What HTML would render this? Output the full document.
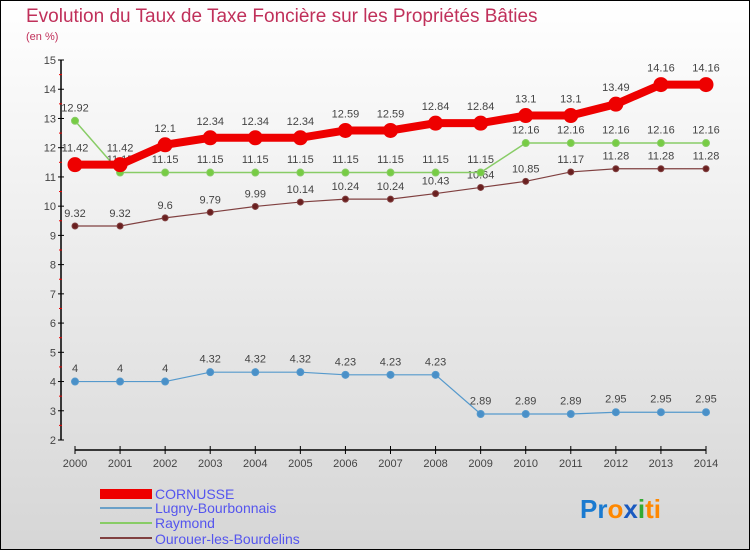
<!DOCTYPE html>
<html><head><meta charset="utf-8"><style>
body{margin:0}
#c{width:750px;height:550px;position:relative;overflow:hidden;background:linear-gradient(#fff,#d6d6d6);border:1px solid #000;box-sizing:border-box;font-family:"Liberation Sans",sans-serif}
</style></head><body>
<div id="c">
<svg id="s" width="750" height="550" style="position:absolute;left:-1px;top:-1px">
<text x="26" y="22" font-size="19" fill="#c0305a">Evolution du Taux de Taxe Foncière sur les Propriétés Bâties</text>
<text x="26" y="40" font-size="11" fill="#c0305a">(en %)</text>
<g id="ax"></g><g id="ser"></g>
<g font-size="14" fill="#5555ee">
<rect x="100" y="489" width="52" height="10" fill="#e00"/><text x="155" y="499">CORNUSSE</text>
<rect x="100" y="507" width="52" height="2" fill="#6aa0c8"/><text x="155" y="513">Lugny-Bourbonnais</text>
<rect x="100" y="522" width="52" height="2" fill="#88cc66"/><text x="155" y="528">Raymond</text>
<rect x="100" y="537" width="52" height="2" fill="#804040"/><text x="155" y="544">Ourouer-les-Bourdelins</text>
</g>
<text x="580" y="518" font-size="26" font-weight="bold"><tspan fill="#1a7ad0">Pr</tspan><tspan fill="#ff8800">o</tspan><tspan fill="#1a5ac0">x</tspan><tspan fill="#33aa33">i</tspan><tspan fill="#ff8800">ti</tspan></text>
</svg></div>
<script>
const years=[2000,2001,2002,2003,2004,2005,2006,2007,2008,2009,2010,2011,2012,2013,2014];
const cornusse=[11.42,11.42,12.1,12.34,12.34,12.34,12.59,12.59,12.84,12.84,13.1,13.1,13.49,14.16,14.16];
const lugny=[4,4,4,4.32,4.32,4.32,4.23,4.23,4.23,2.89,2.89,2.89,2.95,2.95,2.95];
const raymond=[12.92,11.15,11.15,11.15,11.15,11.15,11.15,11.15,11.15,11.15,12.16,12.16,12.16,12.16,12.16];
const ourouer=[9.32,9.32,9.6,9.79,9.99,10.14,10.24,10.24,10.43,10.64,10.85,11.17,11.28,11.28,11.28];
const yTicks=[2,3,4,5,6,7,8,9,10,11,12,13,14,15];
const NS='http://www.w3.org/2000/svg';
const X=i=>75+i*(631/14), Y=v=>440-(v-2)*29.23;
function el(t,a,p){const e=document.createElementNS(NS,t);for(const k in a)e.setAttribute(k,a[k]);p.appendChild(e);return e;}
const ax=document.getElementById('ax');
let yl=el('line',{x1:61,y1:60,x2:61,y2:440,stroke:'#000','stroke-width':1.5},ax);

let xl=el('line',{x1:75,y1:450,x2:706,y2:450,stroke:'#000','stroke-width':1.5},ax);

yTicks.forEach(v=>{el('line',{x1:58,x2:64,y1:Y(v),y2:Y(v),stroke:'#000'},ax);
if(v<15)el('line',{x1:59,x2:62,y1:Y(v+0.5),y2:Y(v+0.5),stroke:'#e00'},ax);
const t=el('text',{x:56,y:Y(v)+4,'font-size':11,fill:'#444','text-anchor':'end'},ax);t.textContent=v;
});
years.forEach((y,i)=>{el('line',{x1:X(i),x2:X(i),y1:446,y2:454,stroke:'#000'},ax);
const t=el('text',{x:X(i),y:467,'font-size':11,fill:'#444','text-anchor':'middle'},ax);t.textContent=y;
});
const ser=document.getElementById('ser');
function draw(name,d,col,w,r,fill){const g=el('g',{},ser);

el('polyline',{points:d.map((v,i)=>X(i)+','+Y(v)).join(' '),fill:'none',stroke:col,'stroke-width':w},g);
d.forEach((v,i)=>{const c=el('circle',{cx:X(i),cy:Y(v),r:r,fill:fill,stroke:col},g);

const t=el('text',{x:X(i),y:Y(v)-(r+6),'font-size':11,fill:'#444','text-anchor':'middle'},g);t.textContent=v;
});}
draw('lugny',lugny,'#5599cc',1.2,3.5,'#4a90c8');
draw('ourouer',ourouer,'#804040',1.2,3,'#6a2020');
draw('raymond',raymond,'#88cc66',1.5,3.5,'#77cc44');
draw('cornusse',cornusse,'#ee0000',8,7,'#ee0000');
</script></body></html>
